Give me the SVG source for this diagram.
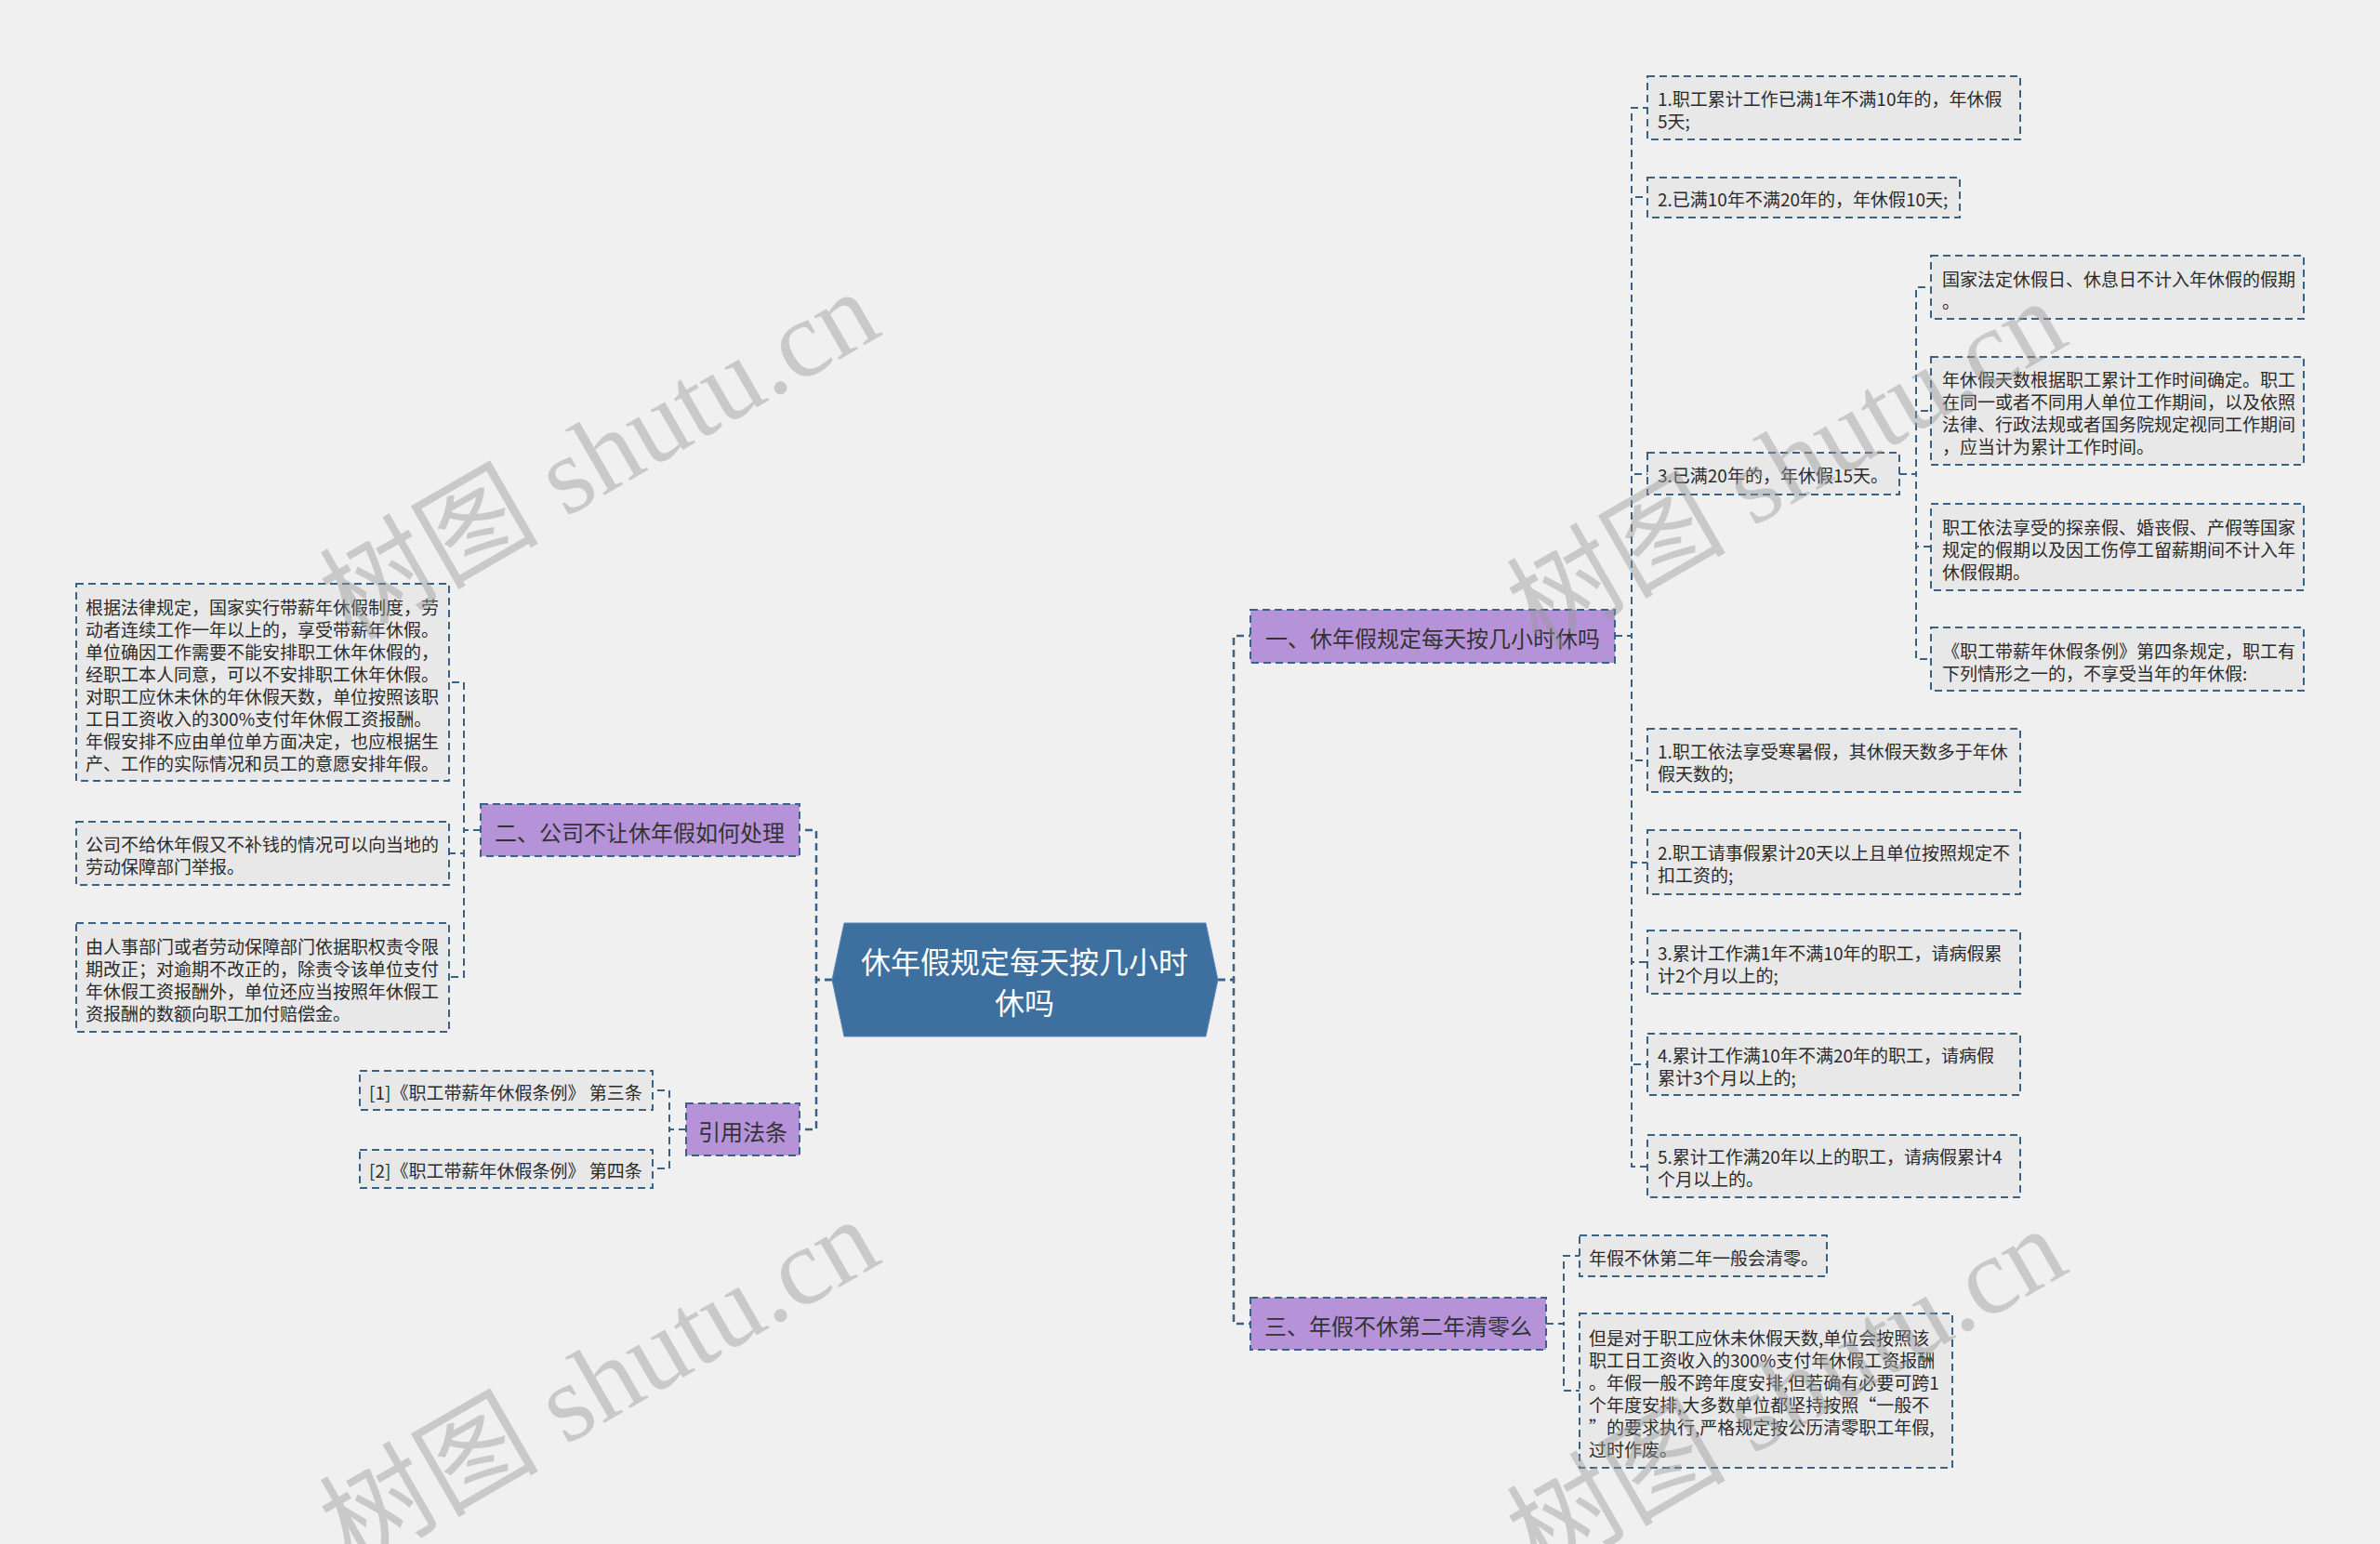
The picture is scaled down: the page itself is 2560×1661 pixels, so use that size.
<svg xmlns="http://www.w3.org/2000/svg" width="2560" height="1661" viewBox="0 0 2560 1661">
<style>
.bg{fill:#f0f0f0}
.leaf{fill:#e8e8e8;stroke:#3a6186;stroke-width:2;stroke-dasharray:8 5}
.br{fill:#b693d9;stroke:#3a6186;stroke-width:2;stroke-dasharray:8 5}
.t{font-family:"Noto Sans CJK SC","Liberation Sans",sans-serif;font-size:19px;fill:#2b2b2b;dominant-baseline:central}
.bt{font-family:"Noto Sans CJK SC","Liberation Sans",sans-serif;font-size:24px;fill:#333;dominant-baseline:central;text-anchor:middle}
.ct{font-family:"Noto Sans CJK SC","Liberation Sans",sans-serif;font-size:32px;fill:#fff;dominant-baseline:central;text-anchor:middle}
.c{fill:none;stroke:#3a6186;stroke-width:2;stroke-dasharray:8 5}
.cm{fill:none;stroke:#3a6186;stroke-width:2.5;stroke-dasharray:8 5}
.wm{font-family:"Liberation Serif","Noto Sans CJK SC",serif;font-size:118px;fill:#999;fill-opacity:0.45;text-anchor:middle;dominant-baseline:central}
</style>
<rect class="bg" x="0" y="0" width="2560" height="1661"/>

<g id="connectors">
<path class="cm" d="M1310,1054 H1327 V684 H1345"/>
<path class="cm" d="M1310,1054 H1327 V1424 H1345"/>
<path class="cm" d="M895,1054 H878 V893 H860"/>
<path class="cm" d="M895,1054 H878 V1215 H860"/>
<path class="c" d="M1737,684 H1755 V116 H1772"/>
<path class="c" d="M1737,684 H1755 V212 H1772"/>
<path class="c" d="M1737,684 H1755 V510 H1772"/>
<path class="c" d="M1737,684 H1755 V818 H1772"/>
<path class="c" d="M1737,684 H1755 V928 H1772"/>
<path class="c" d="M1737,684 H1755 V1035 H1772"/>
<path class="c" d="M1737,684 H1755 V1145 H1772"/>
<path class="c" d="M1737,684 H1755 V1255 H1772"/>
<path class="c" d="M2043,510 H2061 V309 H2077"/>
<path class="c" d="M2043,510 H2061 V442 H2077"/>
<path class="c" d="M2043,510 H2061 V588 H2077"/>
<path class="c" d="M2043,510 H2061 V709 H2077"/>
<path class="c" d="M1663,1424 H1682 V1351 H1699"/>
<path class="c" d="M1663,1424 H1682 V1496 H1699"/>
<path class="c" d="M517,893 H499 V734 H483"/>
<path class="c" d="M517,893 H499 V918 H483"/>
<path class="c" d="M517,893 H499 V1051 H483"/>
<path class="c" d="M738,1215 H720 V1173 H702"/>
<path class="c" d="M738,1215 H720 V1257 H702"/>
</g>

<g id="center">
<polygon points="895,1054 908,993 1297,993 1310,1054 1297,1115 908,1115" fill="#3d6f9f" stroke="#5a88b5" stroke-width="1"/>
<text class="ct" x="1102" y="1033">休年假规定每天按几小时</text>
<text class="ct" x="1102" y="1077">休吗</text>
</g>

<g id="b1">
<rect class="br" x="1345" y="656" width="392" height="57"/>
<text class="bt" x="1541" y="685">一、休年假规定每天按几小时休吗</text>
</g>
<g id="b2">
<rect class="br" x="517" y="865" width="343" height="56"/>
<text class="bt" x="688" y="894">二、公司不让休年假如何处理</text>
</g>
<g id="b3">
<rect class="br" x="738" y="1187" width="122" height="56"/>
<text class="bt" x="799" y="1216">引用法条</text>
</g>
<g id="b4">
<rect class="br" x="1345" y="1396" width="318" height="56"/>
<text class="bt" x="1504" y="1425">三、年假不休第二年清零么</text>
</g>

<g id="l1a">
<rect class="leaf" x="1772" y="82" width="401" height="68"/>
<text class="t" x="1783" y="105">1.职工累计工作已满1年不满10年的，年休假</text>
<text class="t" x="1783" y="129">5天;</text>
</g>
<g id="l1b">
<rect class="leaf" x="1772" y="191" width="336" height="43"/>
<text class="t" x="1783" y="213">2.已满10年不满20年的，年休假10天;</text>
</g>
<g id="l1c">
<rect class="leaf" x="1772" y="487" width="271" height="45"/>
<text class="t" x="1783" y="510">3.已满20年的，年休假15天。</text>
</g>
<g id="l2a">
<rect class="leaf" x="2077" y="275" width="401" height="68"/>
<text class="t" x="2089" y="299">国家法定休假日、休息日不计入年休假的假期</text>
<text class="t" x="2089" y="323">。</text>
</g>
<g id="l2b">
<rect class="leaf" x="2077" y="384" width="401" height="116"/>
<text class="t" x="2089" y="407">年休假天数根据职工累计工作时间确定。职工</text>
<text class="t" x="2089" y="431">在同一或者不同用人单位工作期间，以及依照</text>
<text class="t" x="2089" y="455">法律、行政法规或者国务院规定视同工作期间</text>
<text class="t" x="2089" y="479">，应当计为累计工作时间。</text>
</g>
<g id="l2c">
<rect class="leaf" x="2077" y="542" width="401" height="93"/>
<text class="t" x="2089" y="566">职工依法享受的探亲假、婚丧假、产假等国家</text>
<text class="t" x="2089" y="590">规定的假期以及因工伤停工留薪期间不计入年</text>
<text class="t" x="2089" y="614">休假假期。</text>
</g>
<g id="l2d">
<rect class="leaf" x="2077" y="675" width="401" height="68"/>
<text class="t" x="2089" y="699">《职工带薪年休假条例》第四条规定，职工有</text>
<text class="t" x="2089" y="723">下列情形之一的，不享受当年的年休假:</text>
</g>
<g id="l1d">
<rect class="leaf" x="1772" y="784" width="401" height="68"/>
<text class="t" x="1783" y="807">1.职工依法享受寒暑假，其休假天数多于年休</text>
<text class="t" x="1783" y="831">假天数的;</text>
</g>
<g id="l1e">
<rect class="leaf" x="1772" y="893" width="401" height="69"/>
<text class="t" x="1783" y="916">2.职工请事假累计20天以上且单位按照规定不</text>
<text class="t" x="1783" y="940">扣工资的;</text>
</g>
<g id="l1f">
<rect class="leaf" x="1772" y="1001" width="401" height="68"/>
<text class="t" x="1783" y="1024">3.累计工作满1年不满10年的职工，请病假累</text>
<text class="t" x="1783" y="1048">计2个月以上的;</text>
</g>
<g id="l1g">
<rect class="leaf" x="1772" y="1112" width="401" height="66"/>
<text class="t" x="1783" y="1134">4.累计工作满10年不满20年的职工，请病假</text>
<text class="t" x="1783" y="1158">累计3个月以上的;</text>
</g>
<g id="l1h">
<rect class="leaf" x="1772" y="1221" width="401" height="67"/>
<text class="t" x="1783" y="1243">5.累计工作满20年以上的职工，请病假累计4</text>
<text class="t" x="1783" y="1267">个月以上的。</text>
</g>
<g id="l5a">
<rect class="leaf" x="1699" y="1329" width="266" height="44"/>
<text class="t" x="1709" y="1352">年假不休第二年一般会清零。</text>
</g>
<g id="l5b">
<rect class="leaf" x="1699" y="1413" width="401" height="166"/>
<text class="t" x="1709" y="1438">但是对于职工应休未休假天数,单位会按照该</text>
<text class="t" x="1709" y="1462">职工日工资收入的300%支付年休假工资报酬</text>
<text class="t" x="1709" y="1486">。年假一般不跨年度安排,但若确有必要可跨1</text>
<text class="t" x="1709" y="1510">个年度安排,大多数单位都坚持按照“一般不</text>
<text class="t" x="1709" y="1534">”的要求执行,严格规定按公历清零职工年假,</text>
<text class="t" x="1709" y="1558">过时作废。</text>
</g>
<g id="l3a">
<rect class="leaf" x="82" y="628" width="401" height="212"/>
<text class="t" x="92" y="652">根据法律规定，国家实行带薪年休假制度，劳</text>
<text class="t" x="92" y="676">动者连续工作一年以上的，享受带薪年休假。</text>
<text class="t" x="92" y="700">单位确因工作需要不能安排职工休年休假的，</text>
<text class="t" x="92" y="724">经职工本人同意，可以不安排职工休年休假。</text>
<text class="t" x="92" y="748">对职工应休未休的年休假天数，单位按照该职</text>
<text class="t" x="92" y="772">工日工资收入的300%支付年休假工资报酬。</text>
<text class="t" x="92" y="796">年假安排不应由单位单方面决定，也应根据生</text>
<text class="t" x="92" y="820">产、工作的实际情况和员工的意愿安排年假。</text>
</g>
<g id="l3b">
<rect class="leaf" x="82" y="884" width="401" height="68"/>
<text class="t" x="92" y="907">公司不给休年假又不补钱的情况可以向当地的</text>
<text class="t" x="92" y="931">劳动保障部门举报。</text>
</g>
<g id="l3c">
<rect class="leaf" x="82" y="993" width="401" height="117"/>
<text class="t" x="92" y="1017">由人事部门或者劳动保障部门依据职权责令限</text>
<text class="t" x="92" y="1041">期改正；对逾期不改正的，除责令该单位支付</text>
<text class="t" x="92" y="1065">年休假工资报酬外，单位还应当按照年休假工</text>
<text class="t" x="92" y="1089">资报酬的数额向职工加付赔偿金。</text>
</g>
<g id="l4a">
<rect class="leaf" x="387" y="1152" width="315" height="42"/>
<text class="t" x="397" y="1174">[1]《职工带薪年休假条例》 第三条</text>
</g>
<g id="l4b">
<rect class="leaf" x="387" y="1237" width="315" height="41"/>
<text class="t" x="397" y="1258">[2]《职工带薪年休假条例》 第四条</text>
</g>

<g id="watermarks">
<text class="wm" transform="translate(645,490) rotate(-30)">树图 shutu.cn</text>
<text class="wm" transform="translate(1922,500) rotate(-30)">树图 shutu.cn</text>
<text class="wm" transform="translate(645,1488) rotate(-30)">树图 shutu.cn</text>
<text class="wm" transform="translate(1922,1498) rotate(-30)">树图 shutu.cn</text>
</g>
</svg>
